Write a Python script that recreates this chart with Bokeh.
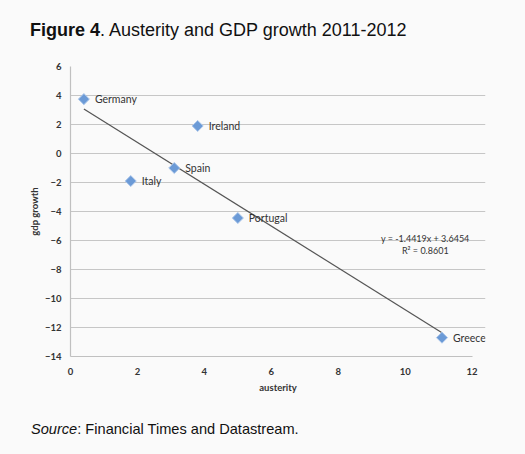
import math
from bokeh.plotting import figure
from bokeh.models import Label, LabelSet, FixedTicker, ColumnDataSource, Div
from bokeh.layouts import column
from bokeh.core.properties import value
from bokeh.embed import file_html
from bokeh.resources import INLINE

# ---- data ----
countries = ["Germany", "Ireland", "Spain", "Italy", "Portugal", "Greece"]
austerity = [0.4, 3.8, 3.1, 1.8, 5.0, 11.1]
gdp_growth = [3.75, 1.9, -1.0, -1.9, -4.45, -12.7]
trend_slope = -1.4419
trend_intercept = 3.6454
r_squared = 0.8601
x_ticks = [0, 2, 4, 6, 8, 10, 12]
y_ticks = [-14, -12, -10, -8, -6, -4, -2, 0, 2, 4, 6]
title_bold = "Figure 4"
title_rest = ". Austerity and GDP growth 2011-2012"
source_italic = "Source"
source_rest = ": Financial Times and Datastream."

BG = "#fafafa"
TXT = "#333333"
CHART_FONT = "Lato"
W = 525
TOP_H, FIG_H, BOT_H = 50, 360, 44

title_div = Div(
    text=(f'<div style="font-family:\'Liberation Sans\',Arial,sans-serif;font-size:18px;'
          f'line-height:21px;color:#111;padding:20px 0 0 30px;white-space:nowrap;">'
          f'<b>{title_bold}</b>{title_rest}</div>'),
    width=W, height=TOP_H, styles={"background-color": BG, "margin": "0", "padding": "0"})

source_div = Div(
    text=(f'<div style="font-family:\'Liberation Sans\',Arial,sans-serif;font-size:14.6px;'
          f'line-height:16px;color:#111;padding:11px 0 0 31px;white-space:nowrap;">'
          f'<i>{source_italic}</i>{source_rest}</div>'),
    width=W, height=BOT_H, styles={"background-color": BG, "margin": "0", "padding": "0"})

p = figure(width=W, height=FIG_H, output_backend="svg", toolbar_location=None,
           x_range=(0, 12.4), y_range=(-14, 6),
           min_border_left=70, min_border_right=40, min_border_top=16, min_border_bottom=54,
           background_fill_color=BG, border_fill_color=BG)
p.outline_line_color = None
p.xgrid.grid_line_color = None
p.ygrid.grid_line_color = "#c6c6c6"
p.ygrid.grid_line_width = 1.2

p.xaxis.ticker = FixedTicker(ticks=x_ticks)
p.yaxis.ticker = FixedTicker(ticks=y_ticks)
p.xaxis.bounds = (0, 12)
for ax in (p.xaxis[0], p.yaxis[0]):
    ax.axis_line_color = "#c0c0c0"
    ax.axis_line_width = 1.2
    ax.major_tick_line_color = None
    ax.minor_tick_line_color = None
    ax.major_label_text_font = CHART_FONT
    ax.major_label_text_font_size = "9.5px"
    ax.major_label_text_font_style = "bold"
    ax.major_label_text_color = TXT
    ax.axis_label_text_font = CHART_FONT
    ax.axis_label_text_font_size = "9.5px"
    ax.axis_label_text_font_style = "bold"
    ax.axis_label_text_color = TXT
p.xaxis.axis_label = "austerity"
p.yaxis.axis_label = "gdp growth"
p.xaxis.major_label_standoff = 5
p.yaxis.major_label_standoff = 3
p.xaxis.axis_label_standoff = 4
p.yaxis.axis_label_standoff = 2

# trend line over data span
x0, x1 = min(austerity), max(austerity)
p.line([x0, x1], [trend_slope * x0 + trend_intercept, trend_slope * x1 + trend_intercept],
       line_color="#555555", line_width=1.2)

src = ColumnDataSource(dict(x=austerity, y=gdp_growth, name=countries))
p.scatter("x", "y", source=src, marker="square", size=7.8, angle=math.pi / 4,
          fill_color="#6b9ad6", line_color="#a9c5ea", line_width=1)
p.add_layout(LabelSet(x="x", y="y", text="name", source=src, x_offset=11,
                      text_baseline="middle", text_font_size="10.5px", text_color=TXT,
                      text_font=value(CHART_FONT)))

eq = f"y = {trend_slope}x + {trend_intercept}"
p.add_layout(Label(x=10.6, y=-5.84, text=eq, text_align="center", text_baseline="middle",
                   text_font=CHART_FONT, text_font_size="9px", text_color=TXT))
p.add_layout(Label(x=10.6, y=-6.69, text=f"R\u00b2 = {r_squared}", text_align="center",
                   text_baseline="middle", text_font=CHART_FONT, text_font_size="9px",
                   text_color=TXT))

layout = column(title_div, p, source_div, spacing=0,
                styles={"background-color": BG})
open("out.html", "w").write(file_html(layout, INLINE))
